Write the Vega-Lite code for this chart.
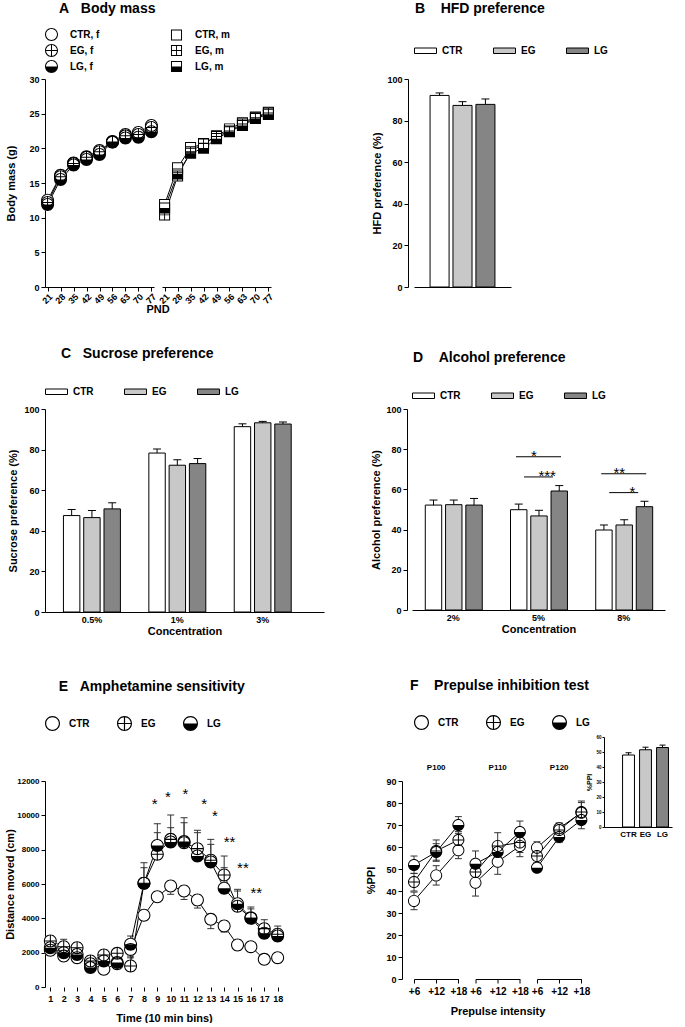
{
"$schema": "https://vega.github.io/schema/vega-lite/v6.json",
"background": "white",
"padding": {"left": 4, "top": 2, "right": 2, "bottom": 0},
"config": {
  "font": "Liberation Sans",
  "view": {"stroke": null},
  "text": {"color": "black"},
  "axis": {"labelFont": "Liberation Sans", "titleFont": "Liberation Sans", "labelFontSize": 9, "labelFontWeight": "bold", "labelColor": "black", "titleFontSize": 11, "titleFontWeight": "bold", "titleColor": "black", "domainColor": "black", "tickColor": "black", "grid": false, "tickSize": 4, "labelPadding": 2},
  "legend": {"labelFont": "Liberation Sans", "labelFontSize": 10, "labelFontWeight": "bold", "labelColor": "black"},
  "title": {"font": "Liberation Sans", "fontSize": 14, "fontWeight": "bold", "anchor": "start", "color": "black"},
  "header": {"labelFont": "Liberation Sans", "titleFont": "Liberation Sans", "labelColor": "black", "titleColor": "black"}
},
"resolve": {"scale": {"shape": "independent", "fill": "independent"}, "legend": {"shape": "independent", "fill": "independent"}},
"align": "none",
"spacing": 32,
"vconcat": [
{
  "align": "none",
  "hconcat": [
  {
    "title": {"text": "A\u00a0\u00a0\u00a0Body mass", "dx": 53, "offset": 12},
    "data": {"values": [
      {"sex":"f","s":"CTR, f","p":21,"m":12.5},{"sex":"f","s":"CTR, f","p":28,"m":16.1},{"sex":"f","s":"CTR, f","p":35,"m":17.9},{"sex":"f","s":"CTR, f","p":42,"m":18.8},{"sex":"f","s":"CTR, f","p":49,"m":19.7},{"sex":"f","s":"CTR, f","p":56,"m":21.0},{"sex":"f","s":"CTR, f","p":63,"m":22.0},{"sex":"f","s":"CTR, f","p":70,"m":22.3},{"sex":"f","s":"CTR, f","p":77,"m":23.3},
      {"sex":"f","s":"EG, f","p":21,"m":12.2},{"sex":"f","s":"EG, f","p":28,"m":15.9},{"sex":"f","s":"EG, f","p":35,"m":17.8},{"sex":"f","s":"EG, f","p":42,"m":18.7},{"sex":"f","s":"EG, f","p":49,"m":19.5},{"sex":"f","s":"EG, f","p":56,"m":20.9},{"sex":"f","s":"EG, f","p":63,"m":21.8},{"sex":"f","s":"EG, f","p":70,"m":22.0},{"sex":"f","s":"EG, f","p":77,"m":23.0},
      {"sex":"f","s":"LG, f","p":21,"m":11.9},{"sex":"f","s":"LG, f","p":28,"m":15.5},{"sex":"f","s":"LG, f","p":35,"m":17.6},{"sex":"f","s":"LG, f","p":42,"m":18.4},{"sex":"f","s":"LG, f","p":49,"m":19.1},{"sex":"f","s":"LG, f","p":56,"m":20.9},{"sex":"f","s":"LG, f","p":63,"m":21.5},{"sex":"f","s":"LG, f","p":70,"m":21.6},{"sex":"f","s":"LG, f","p":77,"m":22.4},
      {"sex":"m","s":"CTR, m","p":21,"m":11.9},{"sex":"m","s":"CTR, m","p":28,"m":17.2},{"sex":"m","s":"CTR, m","p":35,"m":20.1},{"sex":"m","s":"CTR, m","p":42,"m":20.6},{"sex":"m","s":"CTR, m","p":49,"m":21.8},{"sex":"m","s":"CTR, m","p":56,"m":22.8},{"sex":"m","s":"CTR, m","p":63,"m":23.7},{"sex":"m","s":"CTR, m","p":70,"m":24.5},{"sex":"m","s":"CTR, m","p":77,"m":25.2},
      {"sex":"m","s":"EG, m","p":21,"m":10.4},{"sex":"m","s":"EG, m","p":28,"m":16.0},{"sex":"m","s":"EG, m","p":35,"m":19.5},{"sex":"m","s":"EG, m","p":42,"m":20.7},{"sex":"m","s":"EG, m","p":49,"m":21.7},{"sex":"m","s":"EG, m","p":56,"m":22.5},{"sex":"m","s":"EG, m","p":63,"m":23.5},{"sex":"m","s":"EG, m","p":70,"m":24.4},{"sex":"m","s":"EG, m","p":77,"m":25.1},
      {"sex":"m","s":"LG, m","p":21,"m":11.4},{"sex":"m","s":"LG, m","p":28,"m":16.3},{"sex":"m","s":"LG, m","p":35,"m":19.3},{"sex":"m","s":"LG, m","p":42,"m":20.0},{"sex":"m","s":"LG, m","p":49,"m":21.4},{"sex":"m","s":"LG, m","p":56,"m":22.4},{"sex":"m","s":"LG, m","p":63,"m":23.3},{"sex":"m","s":"LG, m","p":70,"m":24.3},{"sex":"m","s":"LG, m","p":77,"m":24.9}
    ]},
    "facet": {"column": {"field": "sex", "type": "nominal", "sort": ["f", "m"], "header": {"labels": false, "title": "PND", "titleOrient": "bottom", "titleFontSize": 11, "titleFontWeight": "bold", "titlePadding": -12}}},
    "spacing": 8,
    "bounds": "flush",
    "spec": {
      "width": 109, "height": 208,
      "encoding": {
        "x": {"field": "p", "type": "ordinal", "scale": {"type": "point", "padding": 0.2}, "axis": {"title": null, "labelAngle": -45, "labelPadding": 1}},
        "y": {"field": "m", "type": "quantitative", "scale": {"domain": [0, 30], "nice": false}, "axis": {"title": "Body mass (g)", "values": [0, 5, 10, 15, 20, 25, 30], "titlePadding": 12}}
      },
      "layer": [
        {"mark": {"type": "line", "color": "black", "strokeWidth": 1}, "encoding": {"detail": {"field": "s"}}},
        {"mark": {"type": "point", "filled": true, "fill": "white", "opacity": 1, "strokeWidth": 0, "size": 169},
         "encoding": {"shape": {"condition": {"test": "datum.sex=='m'", "value": "M-0.85,-0.85H0.85V0.85H-0.85Z"}, "value": "M1,0A1,1,0,1,1,-1,0A1,1,0,1,1,1,0Z"}}},
        {"mark": {"type": "point", "filled": true, "fill": "black", "opacity": 1, "strokeWidth": 0, "size": 169},
         "encoding": {"shape": {"field": "s", "type": "nominal",
           "scale": {"domain": ["CTR, f", "CTR, m", "EG, f", "EG, m", "LG, f", "LG, m"],
             "range": [
               "M1,0A1,1,0,1,1,-1,0A1,1,0,1,1,1,0ZM0.84,0A0.84,0.84,0,1,0,-0.84,0A0.84,0.84,0,1,0,0.84,0Z",
               "M-0.85,-0.85H0.85V0.85H-0.85ZM-0.7,-0.7V0.7H0.7V-0.7Z",
               "M1,0A1,1,0,1,1,-1,0A1,1,0,1,1,1,0ZM0.84,0A0.84,0.84,0,1,0,-0.84,0A0.84,0.84,0,1,0,0.84,0ZM-0.84,-0.08H0.84V0.08H-0.84ZM-0.08,-0.84H0.08V0.84H-0.08Z",
               "M-0.85,-0.85H0.85V0.85H-0.85ZM-0.7,-0.7V0.7H0.7V-0.7ZM-0.7,-0.07H0.7V0.07H-0.7ZM-0.07,-0.7H0.07V0.7H-0.07Z",
               "M1,0A1,1,0,1,1,-1,0A1,1,0,1,1,1,0ZM0.84,0A0.84,0.84,0,1,0,-0.84,0A0.84,0.84,0,1,0,0.84,0ZM-0.84,0A0.84,0.84,0,0,0,0.84,0Z",
               "M-0.85,-0.85H0.85V0.85H-0.85ZM-0.7,-0.7V0.7H0.7V-0.7ZM-0.7,0H0.7V0.7H-0.7Z"
             ]},
           "legend": {"title": null, "orient": "top", "columns": 2, "symbolSize": 169, "labelOffset": 12, "columnPadding": 70, "rowPadding": 3, "offset": 2, "symbolFillColor": "black", "symbolStrokeWidth": 0,
             "labelExpr": "indexof(datum.label, ', f') > 0 ? datum.label + '\u00a0\u00a0\u00a0' : datum.label"}}}}
      ]
    }
  },
  {
    "title": {"text": "B\u00a0\u00a0\u00a0\u00a0HFD preference", "dx": 43, "offset": 23},
    "data": {"values": [{"g":"CTR","v":92.1,"e":93.3},{"g":"EG","v":87.3,"e":89.1},{"g":"LG","v":87.8,"e":90.4}]},
    "width": 97, "height": 208,
    "encoding": {
      "x": {"field": "g", "type": "nominal", "sort": ["CTR", "EG", "LG"], "scale": {"paddingInner": 0.17, "paddingOuter": 0.7}, "axis": {"title": null, "labels": false, "ticks": false}},
      "y": {"field": "v", "type": "quantitative", "scale": {"domain": [0, 100], "nice": false}, "axis": {"title": "HFD preference (%)", "values": [0, 20, 40, 60, 80, 100], "offset": 6, "titlePadding": 4}}
    },
    "layer": [
      {"mark": {"type": "bar", "stroke": "black", "strokeWidth": 1},
       "encoding": {"fill": {"field": "g", "type": "nominal", "scale": {"domain": ["CTR", "EG", "LG"], "range": ["white", "#c8c8c8", "#858585"]},
         "legend": {"title": null, "orient": "top", "direction": "horizontal", "symbolType": "M-1,-0.25H1V0.25H-1Z", "symbolSize": 484, "symbolStrokeColor": "black", "symbolStrokeWidth": 1, "labelOffset": 5, "columnPadding": 28, "offset": 23}}}},
      {"mark": {"type": "rule", "color": "black", "strokeWidth": 1}, "encoding": {"y2": {"field": "e"}}},
      {"mark": {"type": "tick", "color": "black", "thickness": 1, "size": 8, "orient": "horizontal", "opacity": 1}, "encoding": {"y": {"field": "e", "type": "quantitative"}}}
    ]
  }
  ],
  "spacing": 96,
  "resolve": {"scale": {"shape": "independent", "fill": "independent"}, "legend": {"shape": "independent", "fill": "independent"}}
},
{
  "align": "none",
  "hconcat": [
  {
    "title": {"text": "C\u00a0\u00a0\u00a0Sucrose preference", "dx": 53, "offset": 19},
    "data": {"values": [
      {"c":"0.5%","g":"CTR","v":47.5,"e":50.5},{"c":"0.5%","g":"EG","v":46.5,"e":50.0},{"c":"0.5%","g":"LG","v":50.8,"e":53.8},
      {"c":"1%","g":"CTR","v":78.3,"e":80.3},{"c":"1%","g":"EG","v":72.3,"e":75.0},{"c":"1%","g":"LG","v":73.1,"e":75.6},
      {"c":"3%","g":"CTR","v":91.3,"e":92.7},{"c":"3%","g":"EG","v":93.2,"e":93.9},{"c":"3%","g":"LG","v":92.6,"e":93.6}
    ]},
    "width": 279, "height": 203,
    "encoding": {
      "x": {"field": "c", "type": "nominal", "sort": ["0.5%", "1%", "3%"], "scale": {"paddingInner": 0.333, "paddingOuter": 0.3, "align": 0.36}, "axis": {"title": ["Concentration", ""], "titleLineHeight": 11, "ticks": false, "labelAngle": 0, "labelPadding": 3, "titlePadding": 1}},
      "xOffset": {"field": "g", "type": "nominal", "sort": ["CTR", "EG", "LG"], "scale": {"paddingInner": 0.19, "paddingOuter": 0}},
      "y": {"field": "v", "type": "quantitative", "scale": {"domain": [0, 100], "nice": false}, "axis": {"title": "Sucrose preference (%)", "values": [0, 20, 40, 60, 80, 100], "titlePadding": 5}}
    },
    "layer": [
      {"mark": {"type": "bar", "stroke": "black", "strokeWidth": 1},
       "encoding": {"fill": {"field": "g", "type": "nominal", "scale": {"domain": ["CTR", "EG", "LG"], "range": ["white", "#c8c8c8", "#858585"]},
         "legend": {"title": null, "orient": "top", "direction": "horizontal", "symbolType": "M-1,-0.25H1V0.25H-1Z", "symbolSize": 484, "symbolStrokeColor": "black", "symbolStrokeWidth": 1, "labelOffset": 5, "columnPadding": 28, "offset": 12}}}},
      {"mark": {"type": "rule", "color": "black", "strokeWidth": 1}, "encoding": {"y2": {"field": "e"}}},
      {"mark": {"type": "tick", "color": "black", "thickness": 1, "size": 8, "orient": "horizontal", "opacity": 1}, "encoding": {"y": {"field": "e", "type": "quantitative"}}}
    ]
  },
  {
    "title": {"text": "D\u00a0\u00a0\u00a0\u00a0Alcohol preference", "dx": 42, "offset": 19},
    "width": 253, "height": 201,
    "layer": [
      {
        "data": {"values": [
          {"c":"2%","g":"CTR","v":52.2,"e":54.7},{"c":"2%","g":"EG","v":52.4,"e":54.7},{"c":"2%","g":"LG","v":52.2,"e":55.5},
          {"c":"5%","g":"CTR","v":49.9,"e":52.7},{"c":"5%","g":"EG","v":46.8,"e":49.6},{"c":"5%","g":"LG","v":59.2,"e":61.9},
          {"c":"8%","g":"CTR","v":39.8,"e":42.3},{"c":"8%","g":"EG","v":42.3,"e":44.9},{"c":"8%","g":"LG","v":51.4,"e":54.1}
        ]},
        "encoding": {
          "x": {"field": "c", "type": "nominal", "scale": {"domain": ["2%", "5%", "8%"], "paddingInner": 0.343, "paddingOuter": 0.156}, "axis": {"title": "Concentration", "ticks": false, "labelAngle": 0, "labelPadding": 3, "titlePadding": 1}},
          "xOffset": {"field": "g", "type": "nominal", "sort": ["CTR", "EG", "LG"], "scale": {"paddingInner": 0.19, "paddingOuter": 0}},
          "y": {"field": "v", "type": "quantitative", "scale": {"domain": [0, 100], "nice": false}, "axis": {"title": "Alcohol preference (%)", "values": [0, 20, 40, 60, 80, 100], "offset": 5, "titlePadding": 4}}
        },
        "layer": [
          {"mark": {"type": "bar", "stroke": "black", "strokeWidth": 1},
           "encoding": {"fill": {"field": "g", "type": "nominal", "scale": {"domain": ["CTR", "EG", "LG"], "range": ["white", "#c8c8c8", "#858585"]},
             "legend": {"title": null, "orient": "top", "direction": "horizontal", "symbolType": "M-1,-0.25H1V0.25H-1Z", "symbolSize": 484, "symbolStrokeColor": "black", "symbolStrokeWidth": 1, "labelOffset": 5, "columnPadding": 28, "offset": 8}}}},
          {"mark": {"type": "rule", "color": "black", "strokeWidth": 1}, "encoding": {"y2": {"field": "e"}}},
          {"mark": {"type": "tick", "color": "black", "thickness": 1, "size": 8, "orient": "horizontal", "opacity": 1}, "encoding": {"y": {"field": "e", "type": "quantitative"}}}
        ]
      },
      {
        "data": {"values": [{"c":"5%","y":76.3,"s":"*"},{"c":"8%","y":67.8,"s":"**"}]},
        "layer": [
          {"mark": {"type": "tick", "color": "black", "thickness": 1, "size": 45, "orient": "horizontal", "opacity": 1}, "encoding": {"x": {"field": "c", "type": "nominal", "bandPosition": 0.42}, "y": {"field": "y", "type": "quantitative"}}},
          {"mark": {"type": "text", "color": "black", "fontSize": 15, "dy": 4, "baseline": "alphabetic"}, "encoding": {"x": {"field": "c", "type": "nominal", "bandPosition": 0.42}, "y": {"field": "y", "type": "quantitative"}, "text": {"field": "s"}}}
        ]
      },
      {
        "data": {"values": [{"c":"5%","y":66.2,"s":"***"},{"c":"8%","y":58.4,"s":"*"}]},
        "layer": [
          {"mark": {"type": "tick", "color": "black", "thickness": 1, "size": 29, "orient": "horizontal", "opacity": 1}, "encoding": {"x": {"field": "c", "type": "nominal", "bandPosition": 0.655}, "y": {"field": "y", "type": "quantitative"}}},
          {"mark": {"type": "text", "color": "black", "fontSize": 15, "dy": 4, "baseline": "alphabetic"}, "encoding": {"x": {"field": "c", "type": "nominal", "bandPosition": 0.655}, "y": {"field": "y", "type": "quantitative"}, "text": {"field": "s"}}}
        ]
      }
    ]
  }
  ],
  "spacing": 46,
  "resolve": {"scale": {"shape": "independent", "fill": "independent"}, "legend": {"shape": "independent", "fill": "independent"}}
},
{
  "align": "none",
  "hconcat": [
  {
    "title": {"text": "E\u00a0\u00a0\u00a0Amphetamine sensitivity", "dx": 54, "offset": 22},
    "width": 238, "height": 206,
    "encoding": {
      "x": {"field": "t", "type": "quantitative", "scale": {"domain": [0.6, 18.4], "nice": false, "zero": false}, "axis": {"title": "Time (10 min bins)", "values": [1,2,3,4,5,6,7,8,9,10,11,12,13,14,15,16,17,18], "domain": false, "labelPadding": 3, "titlePadding": 9, "labelFlush": false, "labelOverlap": false, "labelSeparation": 0, "labelBound": false}},
      "y": {"field": "m", "type": "quantitative", "scale": {"domain": [0, 12000], "nice": false}, "axis": {"title": "Distance moved (cm)", "values": [0, 2000, 4000, 6000, 8000, 10000, 12000], "format": "d", "labelFontSize": 8, "titlePadding": 1}}
    },
    "layer": [
      {
        "data": {"values": [{"ph":"Baseline","s":1,"e":3,"lx":2.6},{"ph":"Saline","s":4,"e":6,"lx":5.5},{"ph":"Amphetamine","s":7,"e":18,"lx":10.6}]},
        "layer": [
          {"mark": {"type": "rule", "color": "black", "strokeWidth": 1},
           "encoding": {"x": {"field": "s", "type": "quantitative"}, "x2": {"field": "e"}, "y": {"datum": 0, "type": "quantitative"}}},
          {"mark": {"type": "text", "color": "black", "fontSize": 8, "fontWeight": "bold"}, "encoding": {"x": {"field": "lx", "type": "quantitative"}, "y": {"datum": 12760, "type": "quantitative"}, "text": {"field": "ph"}}}
        ]
      },
      {
        "data": {"values": [
          {"t":1,"ph":"B","g":"CTR","m":2140,"e":1950},{"t":2,"ph":"B","g":"CTR","m":1800,"e":1650},{"t":3,"ph":"B","g":"CTR","m":1710,"e":1550},{"t":4,"ph":"S","g":"CTR","m":1350,"e":1200},{"t":5,"ph":"S","g":"CTR","m":1030,"e":900},{"t":6,"ph":"S","g":"CTR","m":1360,"e":1200},
          {"t":7,"ph":"A","g":"CTR","m":2190,"e":1700},{"t":8,"ph":"A","g":"CTR","m":4175,"e":3950},{"t":9,"ph":"A","g":"CTR","m":5260,"e":5000},{"t":10,"ph":"A","g":"CTR","m":5880,"e":5400},{"t":11,"ph":"A","g":"CTR","m":5590,"e":5100},{"t":12,"ph":"A","g":"CTR","m":5070,"e":4600},
          {"t":13,"ph":"A","g":"CTR","m":3940,"e":3400},{"t":14,"ph":"A","g":"CTR","m":3560,"e":3200},{"t":15,"ph":"A","g":"CTR","m":2450,"e":2250},{"t":16,"ph":"A","g":"CTR","m":2350,"e":2150},{"t":17,"ph":"A","g":"CTR","m":1610,"e":1450},{"t":18,"ph":"A","g":"CTR","m":1710,"e":1550},
          {"t":1,"ph":"B","g":"EG","m":2680,"e":2970},{"t":2,"ph":"B","g":"EG","m":2350,"e":2780},{"t":3,"ph":"B","g":"EG","m":2290,"e":2430},{"t":4,"ph":"S","g":"EG","m":1510,"e":1700},{"t":5,"ph":"S","g":"EG","m":1860,"e":2000},{"t":6,"ph":"S","g":"EG","m":1960,"e":2100},
          {"t":7,"ph":"A","g":"EG","m":1220,"e":1800},{"t":8,"ph":"A","g":"EG","m":6040,"e":7240},{"t":9,"ph":"A","g":"EG","m":7730,"e":8990},{"t":10,"ph":"A","g":"EG","m":8600,"e":10020},{"t":11,"ph":"A","g":"EG","m":8410,"e":9860},{"t":12,"ph":"A","g":"EG","m":8060,"e":9130},
          {"t":13,"ph":"A","g":"EG","m":7380,"e":8600},{"t":14,"ph":"A","g":"EG","m":6520,"e":7630},{"t":15,"ph":"A","g":"EG","m":4700,"e":5690},{"t":16,"ph":"A","g":"EG","m":4000,"e":4660},{"t":17,"ph":"A","g":"EG","m":3400,"e":3920},{"t":18,"ph":"A","g":"EG","m":3070,"e":3550},
          {"t":1,"ph":"B","g":"LG","m":2290,"e":2500},{"t":2,"ph":"B","g":"LG","m":2000,"e":2200},{"t":3,"ph":"B","g":"LG","m":1900,"e":2100},{"t":4,"ph":"S","g":"LG","m":1130,"e":1300},{"t":5,"ph":"S","g":"LG","m":1510,"e":1700},{"t":6,"ph":"S","g":"LG","m":1420,"e":1600},
          {"t":7,"ph":"A","g":"LG","m":2490,"e":2970},{"t":8,"ph":"A","g":"LG","m":6040,"e":6950},{"t":9,"ph":"A","g":"LG","m":8250,"e":9510},{"t":10,"ph":"A","g":"LG","m":8450,"e":9280},{"t":11,"ph":"A","g":"LG","m":8470,"e":9570},{"t":12,"ph":"A","g":"LG","m":7630,"e":8990},
          {"t":13,"ph":"A","g":"LG","m":7280,"e":8310},{"t":14,"ph":"A","g":"LG","m":5750,"e":6950},{"t":15,"ph":"A","g":"LG","m":4850,"e":5590},{"t":16,"ph":"A","g":"LG","m":4040,"e":4550},{"t":17,"ph":"A","g":"LG","m":3130,"e":3500},{"t":18,"ph":"A","g":"LG","m":2970,"e":3300}
        ]},
        "layer": [
          {"mark": {"type": "rule", "color": "#333", "strokeWidth": 1}, "encoding": {"y2": {"field": "e"}}},
          {"mark": {"type": "tick", "color": "#333", "thickness": 1, "size": 7, "orient": "horizontal", "opacity": 1}, "encoding": {"y": {"field": "e", "type": "quantitative"}}},
          {"mark": {"type": "line", "color": "black", "strokeWidth": 1}, "encoding": {"detail": [{"field": "g"}, {"field": "ph"}]}},
          {"mark": {"type": "point", "filled": true, "fill": "white", "opacity": 1, "strokeWidth": 0, "size": 169}, "encoding": {"shape": {"value": "M1,0A1,1,0,1,1,-1,0A1,1,0,1,1,1,0Z"}}},
          {"mark": {"type": "point", "filled": true, "fill": "black", "opacity": 1, "strokeWidth": 0, "size": 169},
           "encoding": {"shape": {"field": "g", "type": "nominal",
             "scale": {"domain": ["CTR", "EG", "LG"], "range": [
               "M1,0A1,1,0,1,1,-1,0A1,1,0,1,1,1,0ZM0.84,0A0.84,0.84,0,1,0,-0.84,0A0.84,0.84,0,1,0,0.84,0Z",
               "M1,0A1,1,0,1,1,-1,0A1,1,0,1,1,1,0ZM0.84,0A0.84,0.84,0,1,0,-0.84,0A0.84,0.84,0,1,0,0.84,0ZM-0.84,-0.08H0.84V0.08H-0.84ZM-0.08,-0.84H0.08V0.84H-0.08Z",
               "M1,0A1,1,0,1,1,-1,0A1,1,0,1,1,1,0ZM0.84,0A0.84,0.84,0,1,0,-0.84,0A0.84,0.84,0,1,0,0.84,0ZM-0.84,0A0.84,0.84,0,0,0,0.84,0Z"]},
             "legend": {"title": null, "orient": "top", "direction": "horizontal", "symbolSize": 225, "labelOffset": 9, "columnPadding": 27, "offset": 50, "symbolFillColor": "black", "symbolStrokeWidth": 0}}}}
        ]
      },
      {
        "data": {"values": [{"t":8.8,"y":10900,"s":"*"},{"t":9.8,"y":11300,"s":"*"},{"t":11.1,"y":11500,"s":"*"},{"t":12.5,"y":10900,"s":"*"},{"t":13.3,"y":10200,"s":"*"},{"t":14.4,"y":8700,"s":"**"},{"t":15.4,"y":7150,"s":"**"},{"t":16.4,"y":5700,"s":"**"}]},
        "mark": {"type": "text", "color": "black", "fontSize": 15, "baseline": "middle", "dy": 4},
        "encoding": {"y": {"field": "y", "type": "quantitative"}, "text": {"field": "s"}}
      }
    ]
  },
  {
    "title": {"text": "F\u00a0\u00a0\u00a0\u00a0Prepulse inhibition test", "dx": 44, "offset": 22},
    "align": "none",
    "hconcat": [
    {
      "data": {"values": [
        {"p":"P100","i":"+6","g":"CTR","m":35.5,"lo":31.5,"hi":39.5},{"p":"P100","i":"+6","g":"EG","m":44.1,"lo":40.0,"hi":48.0},{"p":"P100","i":"+6","g":"LG","m":51.8,"lo":48.0,"hi":55.9},
        {"p":"P100","i":"+12","g":"CTR","m":47.1,"lo":42.7,"hi":51.5},{"p":"P100","i":"+12","g":"EG","m":58.2,"lo":53.5,"hi":63.2},{"p":"P100","i":"+12","g":"LG","m":57.7,"lo":54.0,"hi":61.5},
        {"p":"P100","i":"+18","g":"CTR","m":58.5,"lo":54.7,"hi":62.3},{"p":"P100","i":"+18","g":"EG","m":63.2,"lo":59.5,"hi":67.0},{"p":"P100","i":"+18","g":"LG","m":70.0,"lo":66.2,"hi":73.8},
        {"p":"P110","i":"+6","g":"CTR","m":43.8,"lo":37.7,"hi":49.9},{"p":"P110","i":"+6","g":"EG","m":48.6,"lo":44.0,"hi":53.0},{"p":"P110","i":"+6","g":"LG","m":52.4,"lo":46.6,"hi":58.2},
        {"p":"P110","i":"+12","g":"CTR","m":53.3,"lo":47.6,"hi":59.0},{"p":"P110","i":"+12","g":"EG","m":60.5,"lo":54.5,"hi":66.5},{"p":"P110","i":"+12","g":"LG","m":57.7,"lo":53.0,"hi":62.4},
        {"p":"P110","i":"+18","g":"CTR","m":60.5,"lo":55.6,"hi":65.4},{"p":"P110","i":"+18","g":"EG","m":62.0,"lo":57.5,"hi":66.5},{"p":"P110","i":"+18","g":"LG","m":66.8,"lo":61.8,"hi":71.8},
        {"p":"P120","i":"+6","g":"CTR","m":59.7,"lo":57.0,"hi":62.4},{"p":"P120","i":"+6","g":"EG","m":55.9,"lo":53.0,"hi":58.8},{"p":"P120","i":"+6","g":"LG","m":50.6,"lo":48.5,"hi":52.7},
        {"p":"P120","i":"+12","g":"CTR","m":68.5,"lo":66.0,"hi":71.0},{"p":"P120","i":"+12","g":"EG","m":67.7,"lo":65.0,"hi":70.4},{"p":"P120","i":"+12","g":"LG","m":64.5,"lo":62.0,"hi":67.0},
        {"p":"P120","i":"+18","g":"CTR","m":75.6,"lo":71.0,"hi":80.2},{"p":"P120","i":"+18","g":"EG","m":75.9,"lo":70.9,"hi":80.9},{"p":"P120","i":"+18","g":"LG","m":72.3,"lo":68.3,"hi":76.3}
      ]},
      "facet": {"column": {"field": "p", "type": "nominal", "sort": ["P100", "P110", "P120"], "header": {"labelOrient": "top", "labelFontSize": 8, "labelFontWeight": "bold", "labelPadding": 9, "title": "Prepulse intensity", "titleOrient": "bottom", "titleFontSize": 11, "titleFontWeight": "bold", "titlePadding": 0}}},
      "spacing": 16.5,
      "bounds": "flush",
      "spec": {
        "width": 44.4, "height": 198,
        "encoding": {
          "x": {"field": "i", "type": "ordinal", "sort": ["+6", "+12", "+18"], "scale": {"type": "point", "padding": 0}, "axis": {"title": null, "labelFontSize": 10, "labelAngle": 0, "labelPadding": 3}},
          "y": {"field": "m", "type": "quantitative", "scale": {"domain": [0, 90], "nice": false}, "axis": {"title": "%PPI", "values": [0, 10, 20, 30, 40, 50, 60, 70, 80, 90], "offset": 12, "titlePadding": 9}}
        },
        "layer": [
          {"mark": {"type": "rule", "color": "#333", "strokeWidth": 1}, "encoding": {"y": {"field": "lo", "type": "quantitative"}, "y2": {"field": "hi"}}},
          {"mark": {"type": "tick", "color": "#333", "thickness": 1, "size": 7, "orient": "horizontal", "opacity": 1}, "encoding": {"y": {"field": "lo", "type": "quantitative"}}},
          {"mark": {"type": "tick", "color": "#333", "thickness": 1, "size": 7, "orient": "horizontal", "opacity": 1}, "encoding": {"y": {"field": "hi", "type": "quantitative"}}},
          {"mark": {"type": "line", "color": "black", "strokeWidth": 1}, "encoding": {"detail": {"field": "g"}}},
          {"mark": {"type": "point", "filled": true, "fill": "white", "opacity": 1, "strokeWidth": 0, "size": 144}, "encoding": {"shape": {"value": "M1,0A1,1,0,1,1,-1,0A1,1,0,1,1,1,0Z"}}},
          {"mark": {"type": "point", "filled": true, "fill": "black", "opacity": 1, "strokeWidth": 0, "size": 144},
           "encoding": {"shape": {"field": "g", "type": "nominal",
             "scale": {"domain": ["CTR", "EG", "LG"], "range": [
               "M1,0A1,1,0,1,1,-1,0A1,1,0,1,1,1,0ZM0.84,0A0.84,0.84,0,1,0,-0.84,0A0.84,0.84,0,1,0,0.84,0Z",
               "M1,0A1,1,0,1,1,-1,0A1,1,0,1,1,1,0ZM0.84,0A0.84,0.84,0,1,0,-0.84,0A0.84,0.84,0,1,0,0.84,0ZM-0.84,-0.08H0.84V0.08H-0.84ZM-0.08,-0.84H0.08V0.84H-0.08Z",
               "M1,0A1,1,0,1,1,-1,0A1,1,0,1,1,1,0ZM0.84,0A0.84,0.84,0,1,0,-0.84,0A0.84,0.84,0,1,0,0.84,0ZM-0.84,0A0.84,0.84,0,0,0,0.84,0Z"]},
             "legend": {"title": null, "orient": "top", "direction": "horizontal", "symbolSize": 225, "labelOffset": 9, "columnPadding": 27, "offset": 34, "symbolFillColor": "black", "symbolStrokeWidth": 0}}}}
        ]
      }
    },
    {
      "data": {"values": [{"g":"CTR","v":48.0,"e":49.5},{"g":"EG","v":51.5,"e":53.2},{"g":"LG","v":53.0,"e":54.6}]},
      "width": 68, "height": 46,
      "encoding": {
        "x": {"field": "g", "type": "nominal", "sort": ["CTR", "EG", "LG"], "scale": {"paddingInner": 0.3, "paddingOuter": 0.65, "align": 0.84}, "axis": {"title": null, "ticks": false, "labelAngle": 0, "labelFontSize": 8, "labelPadding": 3}},
        "y": {"field": "v", "type": "quantitative", "scale": {"domain": [0, 60], "nice": false, "range": [46, -44]}, "axis": {"title": "%PPI", "titleFontSize": 7, "labelFontSize": 4.5, "tickSize": 2, "labelPadding": 1, "titlePadding": 3, "values": [0, 10, 20, 30, 40, 50, 60]}}
      },
      "layer": [
        {"mark": {"type": "bar", "stroke": "black", "strokeWidth": 1}, "encoding": {"fill": {"field": "g", "type": "nominal", "scale": {"domain": ["CTR", "EG", "LG"], "range": ["white", "#c8c8c8", "#858585"]}, "legend": null}}},
        {"mark": {"type": "rule", "color": "black", "strokeWidth": 1}, "encoding": {"y2": {"field": "e"}}},
        {"mark": {"type": "tick", "color": "black", "thickness": 1, "size": 6, "orient": "horizontal", "opacity": 1}, "encoding": {"y": {"field": "e", "type": "quantitative"}}}
      ]
    }
    ],
    "spacing": -5,
    "resolve": {"scale": {"shape": "independent", "fill": "independent"}, "legend": {"shape": "independent", "fill": "independent"}}
  }
  ],
  "spacing": 80,
  "resolve": {"scale": {"shape": "independent", "fill": "independent"}, "legend": {"shape": "independent", "fill": "independent"}}
}
]
}
